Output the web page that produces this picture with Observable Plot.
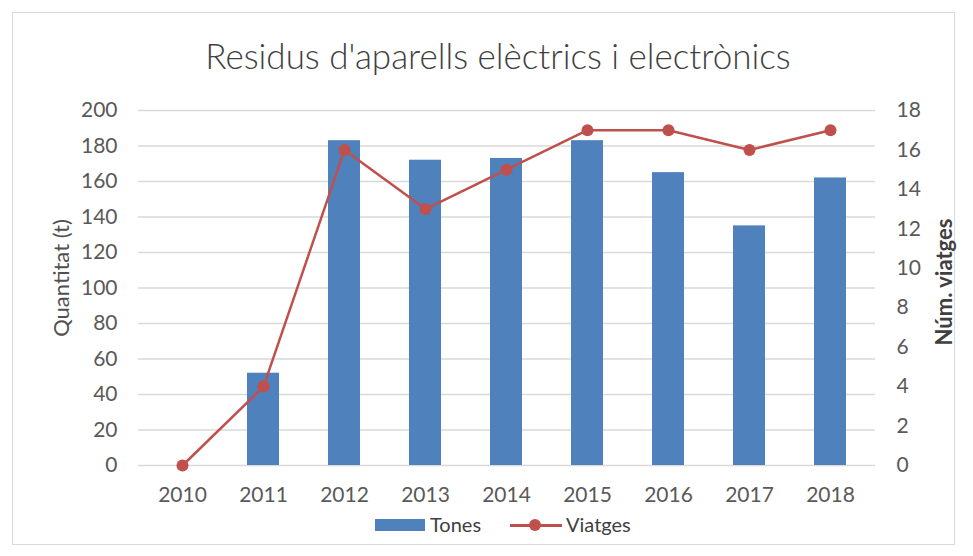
<!DOCTYPE html>
<html>
<head>
<meta charset="utf-8">
<script src="https://cdn.jsdelivr.net/npm/d3@7"></script>
<script src="https://cdn.jsdelivr.net/npm/@observablehq/plot@0.6"></script>
<style>
  html, body { margin: 0; padding: 0; background: #fff; }
  body { width: 973px; height: 556px; position: relative; overflow: hidden; font-family: Lato, "Open Sans", sans-serif; color: #595959; }
  #frame { position: absolute; left: 12px; top: 12px; width: 943px; height: 533px; border: 1.5px solid #d9d9d9; box-sizing: border-box; }
  #title { position: absolute; top: 35px; left: 0; width: 996px; text-align: center; font-size: 35px; font-weight: 300; color: #404040; white-space: nowrap; line-height: 40px; }
  #chart { position: absolute; left: 0; top: 90px; }
  .ytitle { position: absolute; font-size: 22px; font-weight: 400; white-space: nowrap; transform: translate(-50%, -50%) rotate(-90deg); color: #404040; }
  #legend { position: absolute; top: 512px; left: 0; width: 1000px; height: 24px; font-size: 20px; color: #404040; }
  .lg { position: absolute; top: 0; line-height: 24px; }
</style>
</head>
<body>
<div id="frame"></div>
<div id="title">Residus d'aparells elèctrics i electrònics</div>
<div id="chart"></div>
<div class="ytitle" style="left:60px; top:278px; color:#505050;">Quantitat (t)</div>
<div class="ytitle" style="left:943px; top:282px; font-weight:bold;">Núm. viatges</div>
<div id="legend"></div>
<script>
const years = ["2010", "2011", "2012", "2013", "2014", "2015", "2016", "2017", "2018"];
const tones = [0, 52, 183, 172, 173, 183, 165, 135, 162];
const viatges = [0, 4, 16, 13, 15, 17, 17, 16, 17];
const leftTicks = [0, 20, 40, 60, 80, 100, 120, 140, 160, 180, 200];
const rightTicks = [0, 2, 4, 6, 8, 10, 12, 14, 16, 18];
const leftMax = 200, rightMax = 18;
const seriesNames = ["Tones", "Viatges"];
const colors = ["#4f81bd", "#c0504d"];

const k = leftMax / rightMax;
const data = years.map((y, i) => ({ year: y, tones: tones[i], viatges: viatges[i] }));

const chart = Plot.plot({
  width: 973,
  height: 420,
  marginTop: 20,
  marginBottom: 45,
  marginLeft: 138,
  marginRight: 98,
  style: { fontFamily: "Lato, 'Open Sans', sans-serif", fontSize: "21px", color: "#595959", background: "transparent" },
  x: { domain: years, paddingInner: 0.6, paddingOuter: 0.3 },
  y: { domain: [0, leftMax] },
  marks: [
    Plot.gridY(leftTicks, { stroke: "#d9d9d9", strokeOpacity: 1, strokeWidth: 1.3 }),
    Plot.barY(data, { x: "year", y: "tones", fill: colors[0] }),
    Plot.line(data, { x: "year", y: d => d.viatges * k, stroke: colors[1], strokeWidth: 2.5 }),
    Plot.dot(data, { x: "year", y: d => d.viatges * k, fill: colors[1], r: 6 }),
    Plot.axisY(leftTicks, { anchor: "left", tickSize: 0, tickPadding: 21, label: null }),
    Plot.axisY(rightTicks.map(v => v * k), { anchor: "right", tickSize: 0, tickPadding: 21, tickFormat: d => String(Math.round(d / k)), label: null }),
    Plot.axisX({ tickSize: 0, tickPadding: 22, label: null })
  ]
});
document.getElementById("chart").appendChild(chart);

const legend = document.getElementById("legend");
legend.innerHTML =
  `<div style="position:absolute;left:375px;top:7px;width:50px;height:12px;background:${colors[0]}"></div>` +
  `<span class="lg" style="left:430px">${seriesNames[0]}</span>` +
  `<div style="position:absolute;left:510px;top:12px;width:52px;height:2.5px;background:${colors[1]}"></div>` +
  `<div style="position:absolute;left:529px;top:7px;width:12px;height:12px;border-radius:50%;background:${colors[1]}"></div>` +
  `<span class="lg" style="left:566px">${seriesNames[1]}</span>`;
</script>
</body>
</html>
